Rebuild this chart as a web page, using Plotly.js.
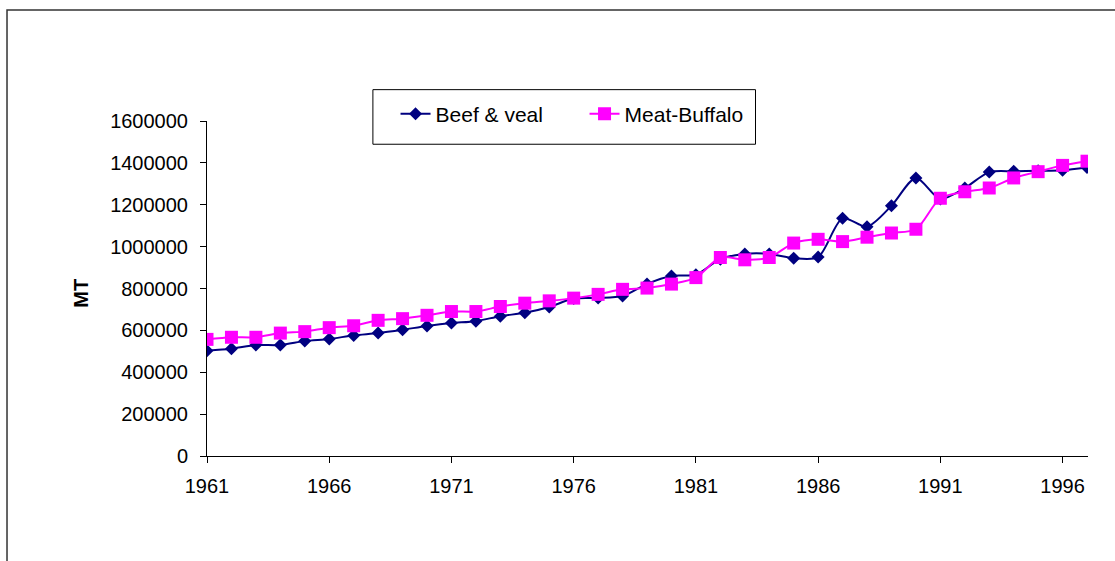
<!DOCTYPE html>
<html>
<head>
<meta charset="utf-8">
<script src="https://cdn.plot.ly/plotly-3.0.1.min.js"></script>
<style>
  html, body { margin: 0; padding: 0; background: #fff; }
  #chart { width: 1115px; height: 561px; }
</style>
</head>
<body>
<div id="chart"></div>
<script>
const years = [1961,1962,1963,1964,1965,1966,1967,1968,1969,1970,1971,1972,1973,1974,1975,1976,1977,1978,1979,1980,1981,1982,1983,1984,1985,1986,1987,1988,1989,1990,1991,1992,1993,1994,1995,1996,1997];
const beefVeal = [503000,512000,530000,530000,549000,559000,576000,587000,603000,621000,635000,644000,668000,684000,712000,752000,755000,764000,822000,860000,866000,940000,965000,965000,945000,950000,1135000,1095000,1195000,1328000,1228000,1280000,1356000,1360000,1362000,1365000,1378000];
const meatBuffalo = [557000,567000,567000,587000,594000,613000,622000,648000,656000,672000,690000,690000,714000,730000,741000,754000,772000,796000,802000,821000,852000,948000,937000,948000,1017000,1035000,1024000,1045000,1065000,1083000,1231000,1262000,1280000,1328000,1358000,1388000,1408000];
const seriesNames = ["Beef & veal", "Meat-Buffalo"];
const xTickVals = [1961,1966,1971,1976,1981,1986,1991,1996];
const yTickVals = [0,200000,400000,600000,800000,1000000,1200000,1400000,1600000];
const yAxisTitle = "MT";

const FONT = "Liberation Sans, Arial, sans-serif";

const traces = [
  {
    x: years, y: beefVeal, name: seriesNames[0], type: "scatter", mode: "lines+markers",
    line: {color: "#000080", width: 2, shape: "spline", smoothing: 0.8},
    marker: {symbol: "diamond", size: 10, color: "#000080"}
  },
  {
    x: years, y: meatBuffalo, name: seriesNames[1], type: "scatter", mode: "lines+markers",
    line: {color: "#FF00FF", width: 2, shape: "spline", smoothing: 0.8},
    marker: {symbol: "square", size: 13, color: "#FF00FF"}
  }
];

const layout = {
  width: 1115, height: 561,
  paper_bgcolor: "#ffffff", plot_bgcolor: "#ffffff",
  margin: {l: 207, r: 27, t: 121, b: 105, pad: 0},
  font: {family: FONT, size: 20, color: "#000"},
  showlegend: true,
  legend: {
    orientation: "h", x: 0.214, xanchor: "left", y: 1.082, yanchor: "top",
    bgcolor: "rgba(0,0,0,0)", borderwidth: 0,
    font: {family: FONT, size: 21, color: "#000"},
    entrywidth: 144, entrywidthmode: "pixels"
  },
  xaxis: {
    range: [1961, 1997.04], tickmode: "array", tickvals: xTickVals,
    ticks: "outside", ticklen: 6, tickcolor: "#000", tickwidth: 1,
    showline: true, linecolor: "#000", linewidth: 1,
    showgrid: false, zeroline: false, ticklabelstandoff: 6,
    tickfont: {family: FONT, size: 20, color: "#000"}
  },
  yaxis: {
    range: [0, 1600000], tickmode: "array", tickvals: yTickVals, tickformat: "d",
    ticks: "outside", ticklen: 6, tickcolor: "#000", tickwidth: 1,
    showline: true, linecolor: "#000", linewidth: 1,
    showgrid: false, zeroline: false, ticklabelstandoff: 8,
    tickfont: {family: FONT, size: 20, color: "#000"}
  },
  annotations: [
    {text: "<b>" + yAxisTitle + "</b>", xref: "paper", yref: "paper",
     x: -0.144, y: 0.485, xanchor: "center", yanchor: "middle", textangle: -90,
     showarrow: false, font: {family: FONT, size: 20, color: "#000"}}
  ],
  shapes: [
    {type: "rect", xref: "paper", yref: "paper", x0: 0.1883, x1: 0.6226, y0: 0.9306, y1: 1.0936,
     line: {color: "#000", width: 1}, fillcolor: "rgba(0,0,0,0)", layer: "below"},
    {type: "rect", xref: "paper", yref: "paper", x0: -0.227, x1: 2, y0: -2, y1: 1.3313,
     line: {color: "#333", width: 1.5}, fillcolor: "rgba(0,0,0,0)", layer: "below"}
  ]
};

Plotly.newPlot("chart", traces, layout, {displayModeBar: false, staticPlot: true});
</script>
</body>
</html>
